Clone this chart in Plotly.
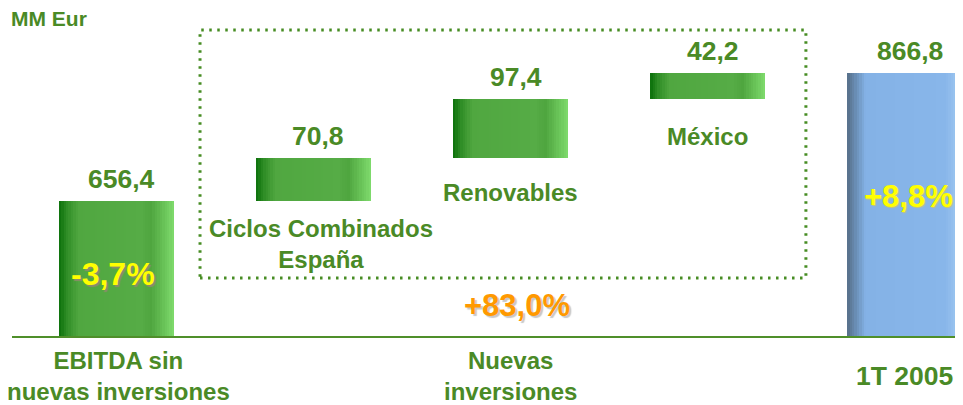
import plotly.graph_objects as go

# ---- data ----
categories = ["EBITDA sin<br>nuevas inversiones", "Ciclos Combinados<br>España",
              "Renovables", "México", "1T 2005"]
values = [656.4, 70.8, 97.4, 42.2, 866.8]
measures = ["absolute", "relative", "relative", "relative", "total"]
value_labels = ["656,4", "70,8", "97,4", "42,2", "866,8"]
bottom_labels = ["EBITDA sin<br>nuevas inversiones", "Nuevas<br>inversiones", "1T 2005"]
bottom_pos = [0.01, 2, 4]
bottom_sizes = [24, 24, 26.5]
growth_labels = ["-3,7%", "+83,0%", "+8,8%"]
unit_label = "MM Eur"

# ---- compute waterfall bases from data ----
bases, tops = [], []
running = 0.0
for v, m in zip(values, measures):
    if m == "absolute":
        b, t = 0.0, v
        running = v
    elif m == "relative":
        b, t = running, running + v
        running += v
    else:
        b, t = 0.0, running
    bases.append(b)
    tops.append(t)
heights = [t - b for t, b in zip(tops, bases)]
xs = list(range(len(values)))

GREEN_TXT = "#4a8a26"
FONT = "Liberation Sans, Arial, sans-serif"

def lerp(c1, c2, f):
    a = [int(c1[i:i + 2], 16) for i in (1, 3, 5)]
    b = [int(c2[i:i + 2], 16) for i in (1, 3, 5)]
    return "#" + "".join(f"{round(a[i] + (b[i] - a[i]) * f):02x}" for i in range(3))

def grad(stops, t):
    for (t0, c0), (t1, c1) in zip(stops, stops[1:]):
        if t0 <= t <= t1:
            return lerp(c0, c1, (t - t0) / (t1 - t0) if t1 > t0 else 0)
    return stops[-1][1]

green_stops = [(0.0, "#0a700a"), (0.07, "#2f8d26"), (0.17, "#50a740"), (0.72, "#56ac46"),
               (0.80, "#4fa53f"), (0.90, "#66c055"), (1.0, "#80dc6e")]
blue_stops = [(0.0, "#566f88"), (0.08, "#6b90b8"), (0.16, "#84b2e6"), (0.85, "#88b6ea"),
              (0.93, "#98c2ee"), (1.0, "#b0d2f3")]

W = 0.585
N = 48
fig = go.Figure()
for k in range(N):
    t = (k + 0.5) / N
    cols = [grad(blue_stops, t) if m == "total" else grad(green_stops, t) for m in measures]
    fig.add_trace(go.Bar(
        x=xs, y=heights, base=bases,
        width=[W / N * (1.6 if k < N - 1 else 1.0)] * len(xs),
        offset=[-W / 2 + k * W / N] * len(xs),
        marker=dict(color=cols, line=dict(width=0)),
        hoverinfo="skip", showlegend=False,
    ))

# value labels above bars
for x, top, lab in zip(xs, tops, value_labels):
    fig.add_annotation(x=x + 0.025, y=top, text=f"<b>{lab}</b>", showarrow=False,
                       yanchor="bottom", yshift=5,
                       font=dict(family=FONT, size=26.5, color=GREEN_TXT))

# segment labels
seg_pos = [(1.04, 0.279), (2.0, 0.438), (3.0, 0.608)]
for (sx, sy), lab in zip(seg_pos, categories[1:4]):
    fig.add_annotation(x=sx, y=sy, yref="paper", text=f"<b>{lab}</b>", showarrow=False,
                       yanchor="middle", font=dict(family=FONT, size=24, color=GREEN_TXT))

# bottom category labels
for bx, lab, fs in zip(bottom_pos, bottom_labels, bottom_sizes):
    fig.add_annotation(x=bx, y=0, yref="paper", text=f"<b>{lab}</b>", showarrow=False,
                       yanchor="middle", yshift=-40,
                       font=dict(family=FONT, size=fs, color=GREEN_TXT))

# growth labels
fig.add_annotation(x=-0.02, y=0.189, yref="paper", text=f"<b>{growth_labels[0]}</b>",
                   showarrow=False, yanchor="middle",
                   font=dict(family=FONT, size=32, color="#ffff00", shadow="2px 2px 1px #8c8c6a"))
fig.add_annotation(x=2.03, y=0.0945, yref="paper", text=f"<b>{growth_labels[1]}</b>",
                   showarrow=False, yanchor="middle",
                   font=dict(family=FONT, size=31, color="#ff9900", shadow="2px 2px 1px #c8c8c8"))
fig.add_annotation(x=4.02, y=0.424, yref="paper", text=f"<b>{growth_labels[2]}</b>",
                   showarrow=False, yanchor="middle",
                   font=dict(family=FONT, size=31, color="#ffff00", shadow="1px 1px 1px #c8c870"))

# unit label
fig.add_annotation(x=0, xref="paper", xanchor="left", xshift=-3, y=1, yref="paper",
                   yanchor="middle", yshift=-10, text=f"<b>{unit_label}</b>", showarrow=False,
                   font=dict(family=FONT, size=21, color=GREEN_TXT))

# dotted group box around the new-investment segments
fig.add_shape(type="rect", x0=1 - 0.576, x1=3 + 0.498, y0=0.177, y1=0.933,
              xref="x", yref="paper",
              line=dict(color="#468c22", width=3, dash="2.5px,5.5px"))

fig.update_layout(
    width=955, height=397,
    margin=dict(l=4, r=0, t=0, b=69),
    paper_bgcolor="white", plot_bgcolor="white",
    barmode="overlay", bargap=0,
    xaxis=dict(range=[-0.530, 4.295], showgrid=False, zeroline=False, showticklabels=False,
               showline=True, linecolor="#4f8f2a", linewidth=2, ticks=""),
    yaxis=dict(range=[434.5, 973.7], showgrid=False, zeroline=False, showticklabels=False,
               showline=False),
    showlegend=False,
)

fig.write_html("out.html")
